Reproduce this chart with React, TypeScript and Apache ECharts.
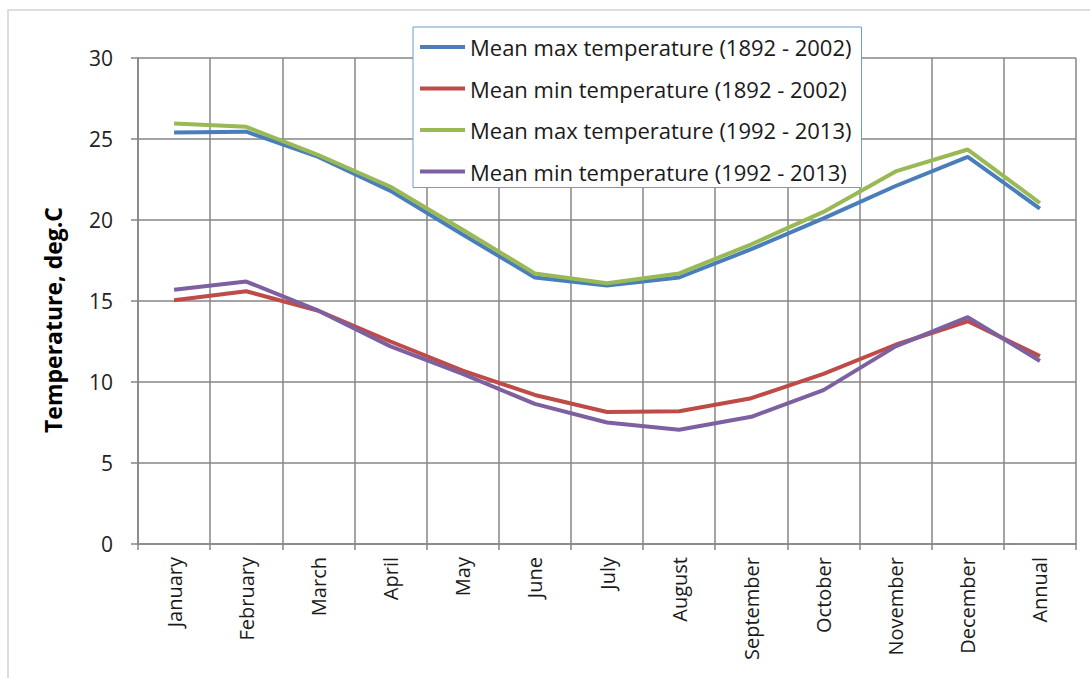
import React, { useEffect, useRef } from "react";
import * as echarts from "echarts";

const categories = [
  "January", "February", "March", "April", "May", "June", "July",
  "August", "September", "October", "November", "December", "Annual",
];
const seriesNames = [
  "Mean max temperature (1892 - 2002)",
  "Mean min temperature (1892 - 2002)",
  "Mean max temperature (1992 - 2013)",
  "Mean min temperature (1992 - 2013)",
];
const maxOld = [25.4, 25.45, 23.9, 21.8, 19.1, 16.45, 15.95, 16.45, 18.2, 20.1, 22.1, 23.9, 20.7];
const minOld = [15.05, 15.6, 14.4, 12.5, 10.7, 9.2, 8.15, 8.2, 9.0, 10.5, 12.3, 13.75, 11.6];
const maxNew = [25.95, 25.75, 24.0, 22.05, 19.4, 16.7, 16.1, 16.7, 18.5, 20.5, 23.0, 24.35, 21.05];
const minNew = [15.7, 16.2, 14.4, 12.2, 10.5, 8.65, 7.5, 7.05, 7.85, 9.5, 12.2, 14.0, 11.3];
const seriesValues = [maxOld, minOld, maxNew, minNew];
const colors = ["#4a7ebb", "#be4b48", "#98b954", "#7d60a0"];
const yTicks = { min: 0, max: 30, interval: 5 };

const FONT = "'Open Sans', 'Liberation Sans', sans-serif";

export default function App() {
  const ref = useRef<HTMLDivElement>(null);
  useEffect(() => {
    if (!ref.current) return;
    const chart = echarts.init(ref.current, null, { renderer: "svg" });
    const gridColor = "#868686";
    chart.setOption({
      animation: false,
      backgroundColor: "#ffffff",
      color: colors,
      grid: { left: 138, right: 14, top: 58, bottom: 134 },
      legend: {
        orient: "vertical",
        left: 413,
        top: 27,
        icon: "rect",
        itemWidth: 45,
        itemHeight: 4,
        itemGap: 17.5,
        padding: [8, 10, 4, 7],
        backgroundColor: "#ffffff",
        borderColor: "#6f9bd1",
        borderWidth: 1,
        textStyle: { fontFamily: FONT, fontSize: 22, lineHeight: 24, color: "#1a1a1a" },
        data: seriesNames,
      },
      xAxis: {
        type: "category",
        data: categories,
        boundaryGap: true,
        axisLine: { show: true, lineStyle: { color: gridColor, width: 1.5 } },
        axisTick: { show: true, length: 6, lineStyle: { color: gridColor, width: 1.5 } },
        splitLine: { show: true, lineStyle: { color: gridColor, width: 1.5 } },
        axisLabel: {
          rotate: 90,
          margin: 13,
          fontFamily: FONT,
          fontSize: 20,
          color: "#1a1a1a",
        },
      },
      yAxis: {
        type: "value",
        min: yTicks.min,
        max: yTicks.max,
        interval: yTicks.interval,
        axisLine: { show: true, lineStyle: { color: gridColor, width: 1.5 } },
        axisTick: { show: true, length: 7, lineStyle: { color: gridColor, width: 1.5 } },
        splitLine: { show: true, lineStyle: { color: gridColor, width: 1.5 } },
        axisLabel: {
          margin: 25,
          fontFamily: FONT,
          fontSize: 21,
          color: "#222222",
        },
      },
      graphic: [
        {
          type: "rect",
          shape: { x: 8, y: 10, width: 1200, height: 800 },
          style: { fill: "none", stroke: "#d4d4d4", lineWidth: 1.5 },
          silent: true,
          z: -10,
        },
        {
          type: "text",
          x: 53,
          y: 320,
          rotation: Math.PI / 2,
          style: {
            text: "Temperature, deg.C",
            fontFamily: FONT,
            fontSize: 23,
            fontWeight: "bold",
            fill: "#000000",
            textAlign: "center",
            textVerticalAlign: "middle",
          },
        },
      ],
      series: seriesNames.map((name, i) => ({
        name,
        type: "line",
        data: seriesValues[i],
        symbol: "none",
        smooth: false,
        lineStyle: { width: 4, color: colors[i] },
        itemStyle: { color: colors[i] },
        z: 3 + i,
      })),
    });
    return () => chart.dispose();
  }, []);
  return (
    <div
      ref={ref}
      style={{ position: "fixed", left: 0, top: 0, width: 1090, height: 678 }}
    />
  );
}
